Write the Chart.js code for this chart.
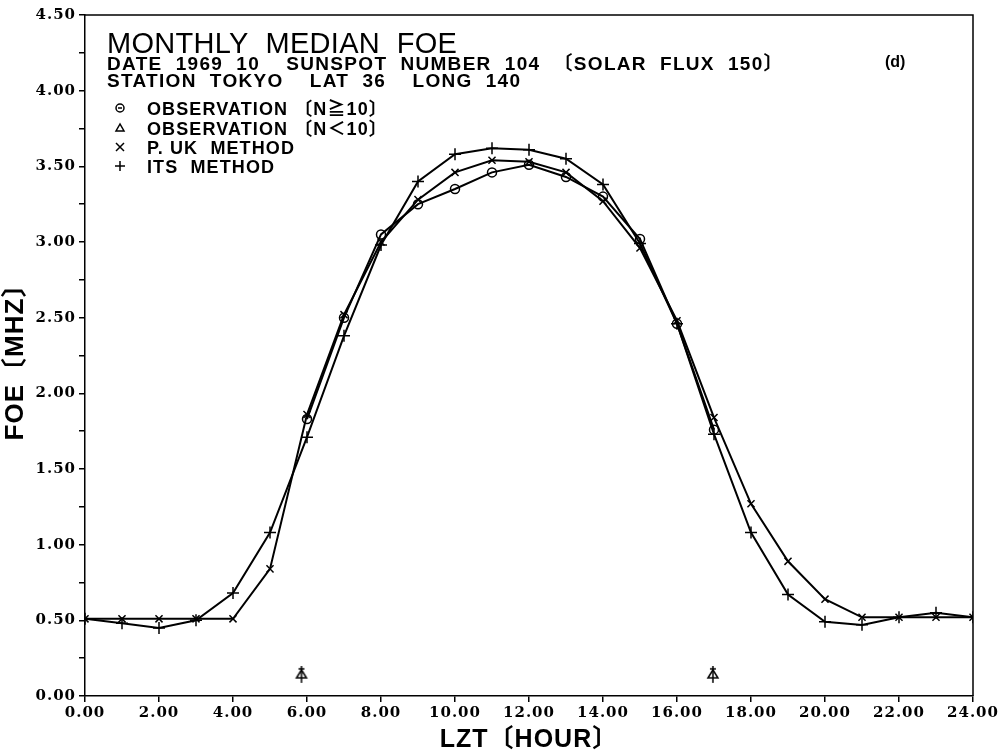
<!DOCTYPE html>
<html>
<head>
<meta charset="utf-8">
<script src="https://cdn.jsdelivr.net/npm/chart.js@4"></script>
<style>
html,body{margin:0;padding:0;background:#fff;}
#wrap{width:1006px;height:755px;position:relative;}
</style>
</head>
<body>
<div id="wrap"><canvas id="c" width="1006" height="755"></canvas></div>
<script>
// ---- data ----
const hours = [0,1,2,3,4,5,6,7,8,9,10,11,12,13,14,15,16,17,18,19,20,21,22,23,24];
const observation = [null,null,null,null,null,null,1.83,2.50,3.05,3.25,3.35,3.46,3.51,3.43,3.30,3.02,2.46,1.76,null,null,null,null,null,null,null];
const pukMethod   = [0.51,0.51,0.51,0.51,0.51,0.84,1.86,2.52,3.00,3.28,3.46,3.54,3.53,3.46,3.27,2.96,2.48,1.84,1.27,0.89,0.64,0.52,0.52,0.52,0.52];
const itsMethod   = [0.51,0.48,0.45,0.50,0.68,1.08,1.71,2.38,2.98,3.40,3.58,3.62,3.61,3.55,3.38,2.99,2.46,1.73,1.08,0.67,0.49,0.47,0.52,0.55,0.52];
const fewObsHours  = [5.85,16.97];
const fewObsValues = [0.14,0.14];
const titleLines = [
  "MONTHLY  MEDIAN  FOE",
  "DATE  1969  10    SUNSPOT  NUMBER  104  〔SOLAR  FLUX  150〕",
  "STATION  TOKYO    LAT  36    LONG  140"
];
const panelTag = "(d)";
const legendLabels = ["OBSERVATION 〔N≧10〕","OBSERVATION 〔N＜10〕","P. UK  METHOD","ITS  METHOD"];
const xTitle = "LZT〔HOUR〕";
const yTitle = "FOE〔MHZ〕";

const SANS = "'Liberation Sans','Noto Sans CJK JP',sans-serif";
const SERIF = "'DejaVu Serif','Liberation Serif',serif";

// arrow-triangle marker for N<10
function makeArrowTri(){
  const cv=document.createElement('canvas');cv.width=16;cv.height=18;
  const g=cv.getContext('2d');g.strokeStyle='#000';g.lineWidth=1.5;
  g.beginPath();g.moveTo(8,4);g.lineTo(3,12);g.lineTo(13,12);g.closePath();g.stroke();
  g.beginPath();g.moveTo(8,0);g.lineTo(8,17);g.stroke();
  g.beginPath();g.moveTo(5,3);g.lineTo(11,3);g.stroke();
  return cv;
}
const arrowTri = makeArrowTri();

const pts = arr => hours.map((h,i)=>({x:h,y:arr[i]}));

const spacing = {
  id:'spacing',
  beforeDraw(chart){ chart.ctx.letterSpacing='1px'; },
  afterDraw(chart){ chart.ctx.letterSpacing='0px'; }
};

const overlay = {
  id:'overlay',
  afterDraw(chart){
    const ctx=chart.ctx, a=chart.chartArea;
    ctx.save();
    ctx.letterSpacing='0px';
    ctx.strokeStyle='#000';ctx.lineWidth=1.5;
    ctx.beginPath();ctx.moveTo(a.left,a.top);ctx.lineTo(a.right,a.top);ctx.lineTo(a.right,a.bottom);ctx.stroke();
    ctx.fillStyle='#000';ctx.textBaseline='alphabetic';ctx.textAlign='left';
    const L=a.left;
    ctx.letterSpacing='0.3px';
    ctx.font="500 29px "+SANS; ctx.fillText(titleLines[0], L+22, a.top+38);
    ctx.letterSpacing='1.3px';
    ctx.font="bold 19px "+SANS; ctx.fillText(titleLines[1], L+22, a.top+55);
    ctx.fillText(titleLines[2], L+22, a.top+72);
    ctx.letterSpacing='0px';
    ctx.font="bold 16px "+SANS; ctx.fillText(panelTag, L+800, a.top+52);
    // legend
    ctx.letterSpacing='1.1px';
    ctx.font="bold 18px "+SANS;
    const ly=[a.top+93,a.top+113,a.top+132,a.top+151];
    legendLabels.forEach((t,i)=>ctx.fillText(t, L+62, ly[i]+7));
    ctx.letterSpacing='0px';
    const sx=L+35;
    ctx.lineWidth=1.5;
    ctx.beginPath();ctx.arc(sx,ly[0],4,0,Math.PI*2);ctx.stroke();
    ctx.beginPath();ctx.moveTo(sx-2,ly[0]);ctx.lineTo(sx+2,ly[0]);ctx.stroke();
    ctx.beginPath();ctx.moveTo(sx,ly[1]-4);ctx.lineTo(sx-4,ly[1]+3);ctx.lineTo(sx+4,ly[1]+3);ctx.closePath();ctx.stroke();
    ctx.beginPath();ctx.moveTo(sx-4,ly[2]-4);ctx.lineTo(sx+4,ly[2]+4);ctx.moveTo(sx+4,ly[2]-4);ctx.lineTo(sx-4,ly[2]+4);ctx.stroke();
    ctx.beginPath();ctx.moveTo(sx-5,ly[3]);ctx.lineTo(sx+5,ly[3]);ctx.moveTo(sx,ly[3]-5);ctx.lineTo(sx,ly[3]+5);ctx.stroke();
    ctx.restore();
  }
};

new Chart(document.getElementById('c'),{
  type:'line',
  data:{datasets:[
    {label:'ITS METHOD',data:pts(itsMethod),borderColor:'#000',borderWidth:2,pointStyle:'cross',pointRadius:6,pointBorderWidth:1.5,pointBorderColor:'#000',backgroundColor:'transparent',tension:0},
    {label:'P. UK METHOD',data:pts(pukMethod),borderColor:'#000',borderWidth:2,pointStyle:'crossRot',pointRadius:5,pointBorderWidth:1.5,pointBorderColor:'#000',backgroundColor:'transparent',tension:0},
    {label:'OBSERVATION N>=10',data:pts(observation),borderColor:'#000',borderWidth:2,pointStyle:'circle',pointRadius:4.5,pointBorderWidth:1.5,pointBackgroundColor:'transparent',backgroundColor:'transparent',spanGaps:false,tension:0},
    {label:'OBSERVATION N<10',data:fewObsHours.map((h,i)=>({x:h,y:fewObsValues[i]})),showLine:false,pointStyle:arrowTri,pointRadius:8,borderColor:'#000'}
  ]},
  options:{
    responsive:false,animation:false,
    layout:{padding:{top:15,right:33,left:0,bottom:0}},
    plugins:{legend:{display:false},tooltip:{enabled:false}},
    scales:{
      x:{type:'linear',min:0,max:24,
        afterFit:s=>{s.height=59;},
        ticks:{stepSize:2,autoSkip:false,maxRotation:0,color:'#000',font:{family:SERIF,size:15,weight:'bold'},padding:2,callback:v=>v.toFixed(2)},
        grid:{drawOnChartArea:false,tickLength:6,color:'#000',lineWidth:1.5},
        border:{display:true,color:'#000',width:1.5},
        title:{display:true,text:xTitle,color:'#000',font:{family:SANS,size:25,weight:'bold'},padding:{top:0,bottom:0}}
      },
      y:{type:'linear',min:0,max:4.5,
        afterFit:s=>{s.width=85;},
        ticks:{stepSize:0.25,autoSkip:false,color:'#000',font:{family:SERIF,size:15,weight:'bold'},padding:3,
          callback:v=>(Math.round(v*100)%50===0? v.toFixed(2):'')},
        grid:{drawOnChartArea:false,tickLength:6,color:'#000',lineWidth:1.5},
        border:{display:true,color:'#000',width:1.5},
        title:{display:true,text:yTitle,color:'#000',font:{family:SANS,size:26,weight:'bold'},padding:{top:0,bottom:2}}
      }
    }
  },
  plugins:[spacing,overlay]
});
</script>
</body>
</html>
